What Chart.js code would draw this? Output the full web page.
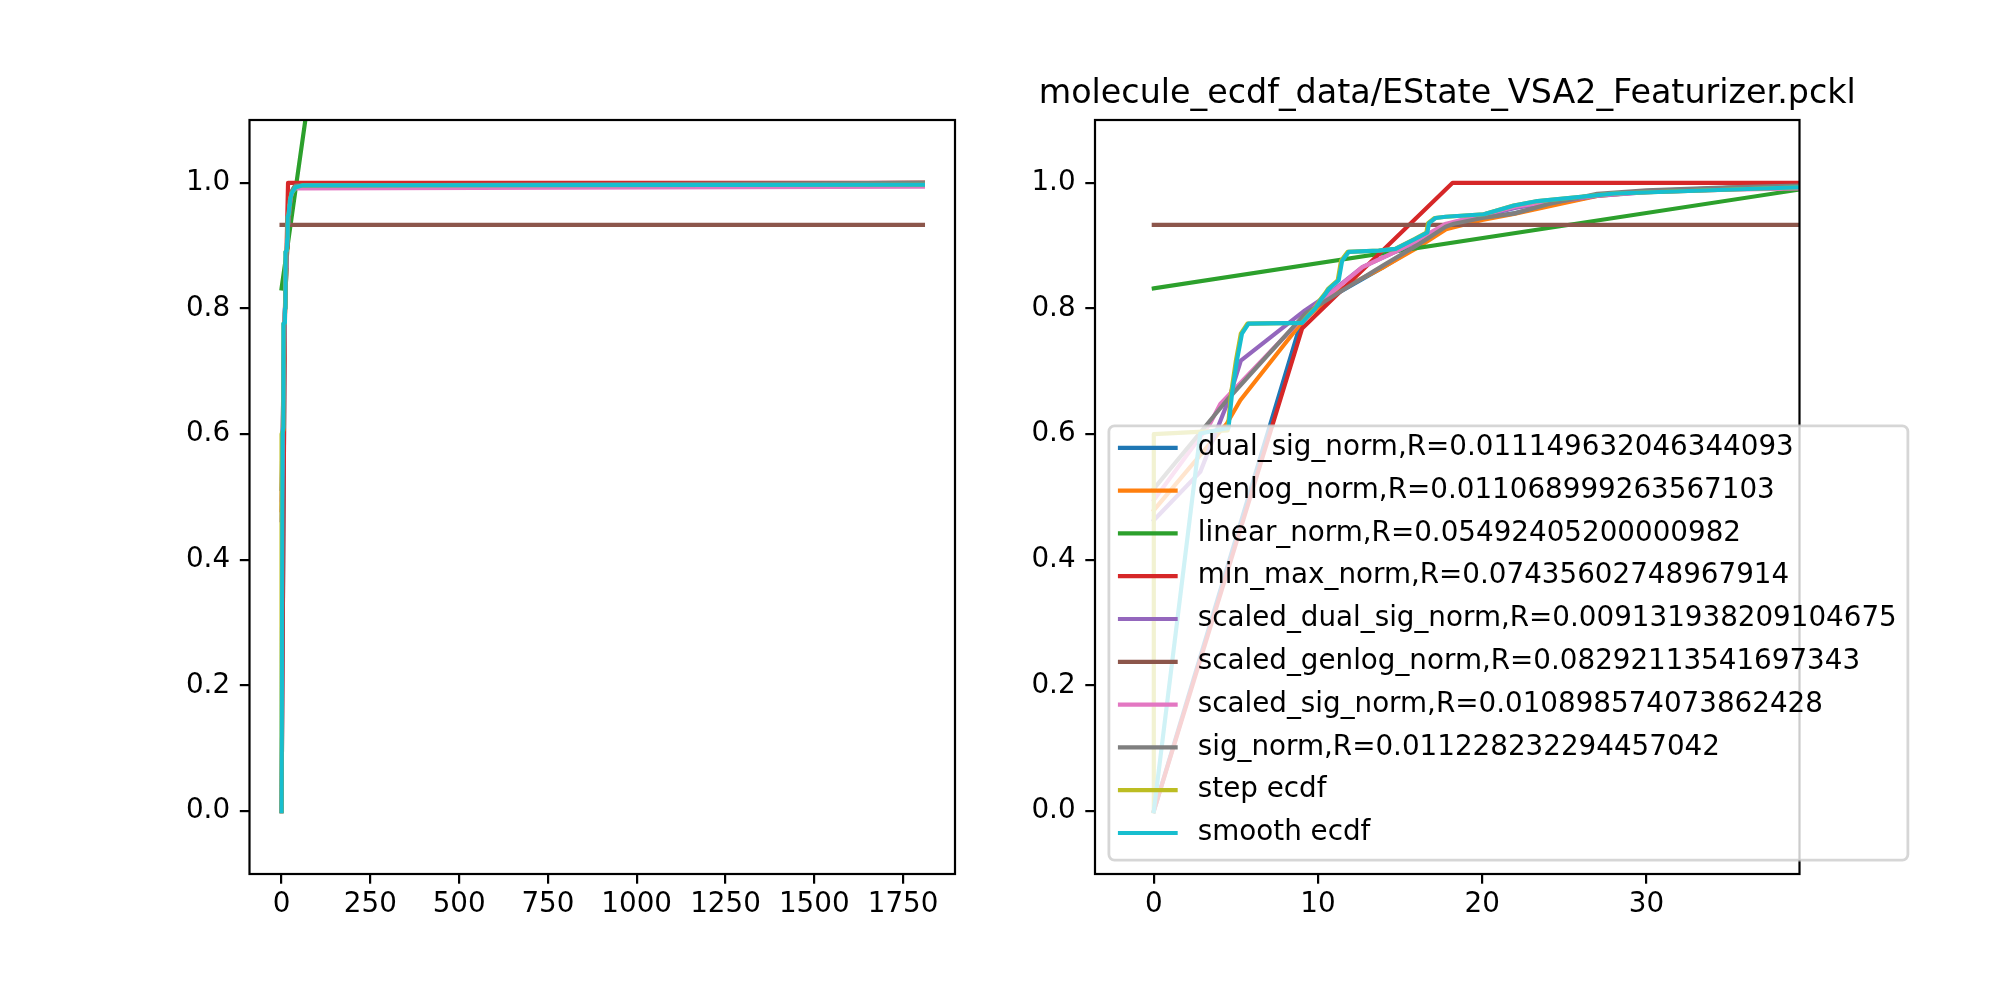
<!DOCTYPE html>
<html>
<head>
<meta charset="utf-8">
<title>ecdf normalisation</title>
<script src="https://cdn.jsdelivr.net/npm/chart.js@4.4.1/dist/chart.umd.min.js"></script>
<style>
  html, body { margin: 0; padding: 0; background: #fff; }
  #wrap { position: relative; width: 2000px; height: 1000px; background: #fff; }
  #wrap canvas { position: absolute; top: 0; }
  #chartLeft { left: 0; }
  #chartRight { left: 1000px; }
</style>
</head>
<body>
<div id="wrap">
  <canvas id="chartLeft" width="1000" height="1000"></canvas>
  <canvas id="chartRight" width="1000" height="1000"></canvas>
</div>
<script>
// values, one x/y pair of arrays per curve
const dualSigX = [0, 8.87, 9.25, 11.3, 14.0, 16.0, 17.8, 20.0, 22.0, 25.0, 27.0, 30.0, 35.0, 39.4, 1806];
const dualSigY = [0, 0.770, 0.792, 0.826, 0.866, 0.898, 0.929, 0.943, 0.952, 0.969, 0.980, 0.987, 0.992, 0.996, 1.0];

const genlogX = [0, 4.45, 5.27, 9.1, 11.26, 14.0, 16.0, 17.8, 20.0, 22.0, 25.0, 27.0, 30.0, 35.0, 39.4, 1806];
const genlogY = [0.479, 0.617, 0.654, 0.781, 0.829, 0.866, 0.896, 0.926, 0.941, 0.951, 0.968, 0.979, 0.986, 0.992, 0.995, 1.0];

const linearX = [0, 1806];
const linearY = [0.832, 8.056];

const minMaxX = [0, 9.03, 18.2, 1806];
const minMaxY = [0, 0.768, 1.0, 1.0];

const scaledDualSigX = [0, 2.83, 4.55, 5.3, 9.2, 10.5, 12.7, 14.7, 16.0, 17.8, 20.0, 22.0, 24.0, 27.0, 30.0, 35.0, 39.4, 1806];
const scaledDualSigY = [0.463, 0.540, 0.654, 0.717, 0.797, 0.820, 0.866, 0.890, 0.906, 0.933, 0.947, 0.960, 0.968, 0.979, 0.985, 0.990, 0.993, 0.996];

const scaledGenlogX = [0, 1806];
const scaledGenlogY = [0.933, 0.933];

const scaledSigX = [0, 3.43, 4.05, 9.1, 10.5, 12.7, 14.7, 16.0, 17.8, 20.0, 22.0, 24.0, 27.0, 30.0, 35.0, 39.4, 1806];
const scaledSigY = [0.495, 0.617, 0.648, 0.786, 0.818, 0.866, 0.890, 0.908, 0.935, 0.949, 0.962, 0.970, 0.980, 0.985, 0.989, 0.991, 0.994];

const sigX = [0, 4.45, 9.23, 11.3, 14.0, 16.0, 17.77, 18.28, 20.0, 21.94, 24.0, 27.0, 30.0, 35.0, 39.3, 1806];
const sigY = [0.513, 0.654, 0.792, 0.826, 0.869, 0.900, 0.930, 0.935, 0.944, 0.951, 0.966, 0.9825, 0.988, 0.993, 0.9957, 1.0];

const stepX = [0, 0, 4.5, 4.7, 5.0, 5.3, 5.7, 9.0, 9.4, 9.8, 10.1, 10.4, 10.6, 11.2, 11.4, 11.8, 13.7, 14.7, 15.9, 16.6, 16.7, 17.1, 17.8, 20.1, 21.9, 23.4, 28.0, 39.3, 60, 1806];
const stepY = [0, 0.600, 0.606, 0.664, 0.717, 0.760, 0.776, 0.777, 0.789, 0.800, 0.813, 0.823, 0.831, 0.845, 0.876, 0.890, 0.892, 0.895, 0.911, 0.921, 0.936, 0.944, 0.946, 0.950, 0.964, 0.971, 0.983, 0.993, 0.996, 0.997];

const smoothX = [0, 2.83, 4.55, 4.76, 5.06, 5.37, 5.77, 9.03, 9.43, 9.84, 10.15, 10.45, 10.65, 11.26, 11.47, 11.87, 13.7, 14.72, 15.94, 16.66, 16.76, 17.16, 17.77, 20.1, 21.94, 23.36, 28.04, 39.33, 60, 1806];
const smoothY = [0, 0.601, 0.610, 0.664, 0.717, 0.760, 0.776, 0.777, 0.789, 0.800, 0.813, 0.823, 0.831, 0.845, 0.876, 0.890, 0.892, 0.895, 0.911, 0.921, 0.936, 0.944, 0.946, 0.950, 0.964, 0.971, 0.983, 0.993, 0.996, 0.997];

const seriesNames = [
  'dual_sig_norm,R=0.011149632046344093',
  'genlog_norm,R=0.011068999263567103',
  'linear_norm,R=0.05492405200000982',
  'min_max_norm,R=0.07435602748967914',
  'scaled_dual_sig_norm,R=0.009131938209104675',
  'scaled_genlog_norm,R=0.08292113541697343',
  'scaled_sig_norm,R=0.010898574073862428',
  'sig_norm,R=0.011228232294457042',
  'step ecdf',
  'smooth ecdf'
];
const seriesX = [dualSigX, genlogX, linearX, minMaxX, scaledDualSigX, scaledGenlogX, scaledSigX, sigX, stepX, smoothX];
const seriesY = [dualSigY, genlogY, linearY, minMaxY, scaledDualSigY, scaledGenlogY, scaledSigY, sigY, stepY, smoothY];

const leftXTicks = [0, 250, 500, 750, 1000, 1250, 1500, 1750];
const rightXTicks = [0, 10, 20, 30];
const yTicks = [0, 0.2, 0.4, 0.6, 0.8, 1.0];
const yTickLabels = ['0.0', '0.2', '0.4', '0.6', '0.8', '1.0'];

const titleText = 'molecule_ecdf_data/EState_VSA2_Featurizer.pckl';

// styles
const seriesColors = ['#1f77b4', '#ff7f0e', '#2ca02c', '#d62728', '#9467bd',
                      '#8c564b', '#e377c2', '#7f7f7f', '#bcbd22', '#17becf'];
const fontFamily = '"DejaVu Sans", sans-serif';
const fontSize = 27.78;
const titleSize = 33.33;

Chart.defaults.font.family = fontFamily;
Chart.defaults.color = '#000';

function buildDatasets() {
  return seriesNames.map(function (name, i) {
    return {
      label: name,
      data: seriesX[i].map(function (x, j) { return { x: x, y: seriesY[i][j] }; }),
      borderColor: seriesColors[i],
      backgroundColor: seriesColors[i],
      borderWidth: 4.17,
      pointRadius: 0,
      pointHoverRadius: 0,
      tension: 0,
      fill: false,
      borderCapStyle: 'square',
      borderJoinStyle: 'round',
      order: -i   // later series on top, like the original
    };
  });
}

function buildScales(xMin, xMax, xTicks) {
  const grid = { drawOnChartArea: false, drawTicks: true, tickLength: 9.7, color: '#000', lineWidth: 2.2 };
  return {
    x: {
      type: 'linear',
      min: xMin,
      max: xMax,
      afterBuildTicks: function (s) { s.ticks = xTicks.map(function (v) { return { value: v }; }); },
      afterFit: function (s) { s.height = 60; },
      grid: grid,
      border: { display: false },
      ticks: {
        color: '#000', font: { family: fontFamily, size: fontSize }, padding: 4.6,
        maxRotation: 0, autoSkip: false,
        callback: function (v) { return String(v); }
      }
    },
    y: {
      type: 'linear',
      min: -0.1,
      max: 1.1,
      afterBuildTicks: function (s) { s.ticks = yTicks.map(function (v) { return { value: v }; }); },
      afterFit: function (s) { s.width = 70; },
      grid: grid,
      border: { display: false },
      ticks: {
        color: '#000', font: { family: fontFamily, size: fontSize }, padding: 9.7,
        autoSkip: false,
        callback: function (v, i) { return yTickLabels[i]; }
      }
    }
  };
}

function drawLegend(chart) {
  const ctx = chart.ctx;
  const a = chart.chartArea;
  ctx.save();
  ctx.font = fontSize + 'px ' + fontFamily;
  let maxW = 0;
  seriesNames.forEach(function (n) { maxW = Math.max(maxW, ctx.measureText(n).width); });
  const left = a.left + 13.9;
  const bottom = a.bottom - 13.9;
  const height = 434.3;
  const top = bottom - height;
  const width = 100 + maxW;
  ctx.beginPath();
  ctx.roundRect(left, top, width, height, 5.6);
  ctx.fillStyle = 'rgba(255,255,255,0.8)';
  ctx.fill();
  ctx.lineWidth = 2.78;
  ctx.strokeStyle = 'rgba(204,204,204,0.8)';
  ctx.stroke();
  ctx.textBaseline = 'middle';
  ctx.textAlign = 'left';
  seriesNames.forEach(function (name, i) {
    const y = top + 22 + i * 42.8;
    ctx.beginPath();
    ctx.moveTo(left + 11.1, y);
    ctx.lineTo(left + 66.7, y);
    ctx.lineWidth = 4.17;
    ctx.lineCap = 'square';
    ctx.strokeStyle = seriesColors[i];
    ctx.stroke();
    ctx.fillStyle = '#000';
    ctx.fillText(name, left + 88.9, y);
  });
  ctx.restore();
}

// box round the plot area, the title above it and the legend over it
const axesFrame = {
  id: 'axesFrame',
  afterDraw: function (chart, args, opts) {
    const ctx = chart.ctx;
    const a = chart.chartArea;
    ctx.save();
    ctx.strokeStyle = '#000';
    ctx.lineWidth = 2.2;
    ctx.strokeRect(a.left, a.top, a.right - a.left, a.bottom - a.top);
    if (opts.title) {
      ctx.font = titleSize + 'px ' + fontFamily;
      ctx.fillStyle = '#000';
      ctx.textAlign = 'center';
      ctx.textBaseline = 'alphabetic';
      ctx.fillText(opts.title, (a.left + a.right) / 2, a.top - 16.7);
    }
    ctx.restore();
    if (opts.legend) drawLegend(chart);
  }
};

var leftConfig = {
  type: 'line',
  data: { datasets: buildDatasets() },
  options: {
    responsive: false,
    animation: false,
    devicePixelRatio: 1,
    events: [],
    layout: { autoPadding: false, padding: { left: 179.5, right: 45, top: 120, bottom: 66 } },
    scales: buildScales(-90.3, 1896.3, leftXTicks),
    plugins: {
      legend: { display: false },
      tooltip: { enabled: false },
      title: { display: false },
      axesFrame: { legend: false, title: '' }
    }
  },
  plugins: [axesFrame]
};

var rightConfig = {
  type: 'line',
  data: { datasets: buildDatasets() },
  options: {
    responsive: false,
    animation: false,
    devicePixelRatio: 1,
    events: [],
    layout: { autoPadding: false, padding: { left: 25, right: 200.5, top: 120, bottom: 66 } },
    scales: buildScales(-3.58, 39.32, rightXTicks),
    plugins: {
      legend: { display: false },
      tooltip: { enabled: false },
      title: { display: false },
      axesFrame: { legend: true, title: titleText }
    }
  },
  plugins: [axesFrame]
};

var leftChart = new Chart(document.getElementById('chartLeft'), leftConfig);
var rightChart = new Chart(document.getElementById('chartRight'), rightConfig);
</script>
</body>
</html>
